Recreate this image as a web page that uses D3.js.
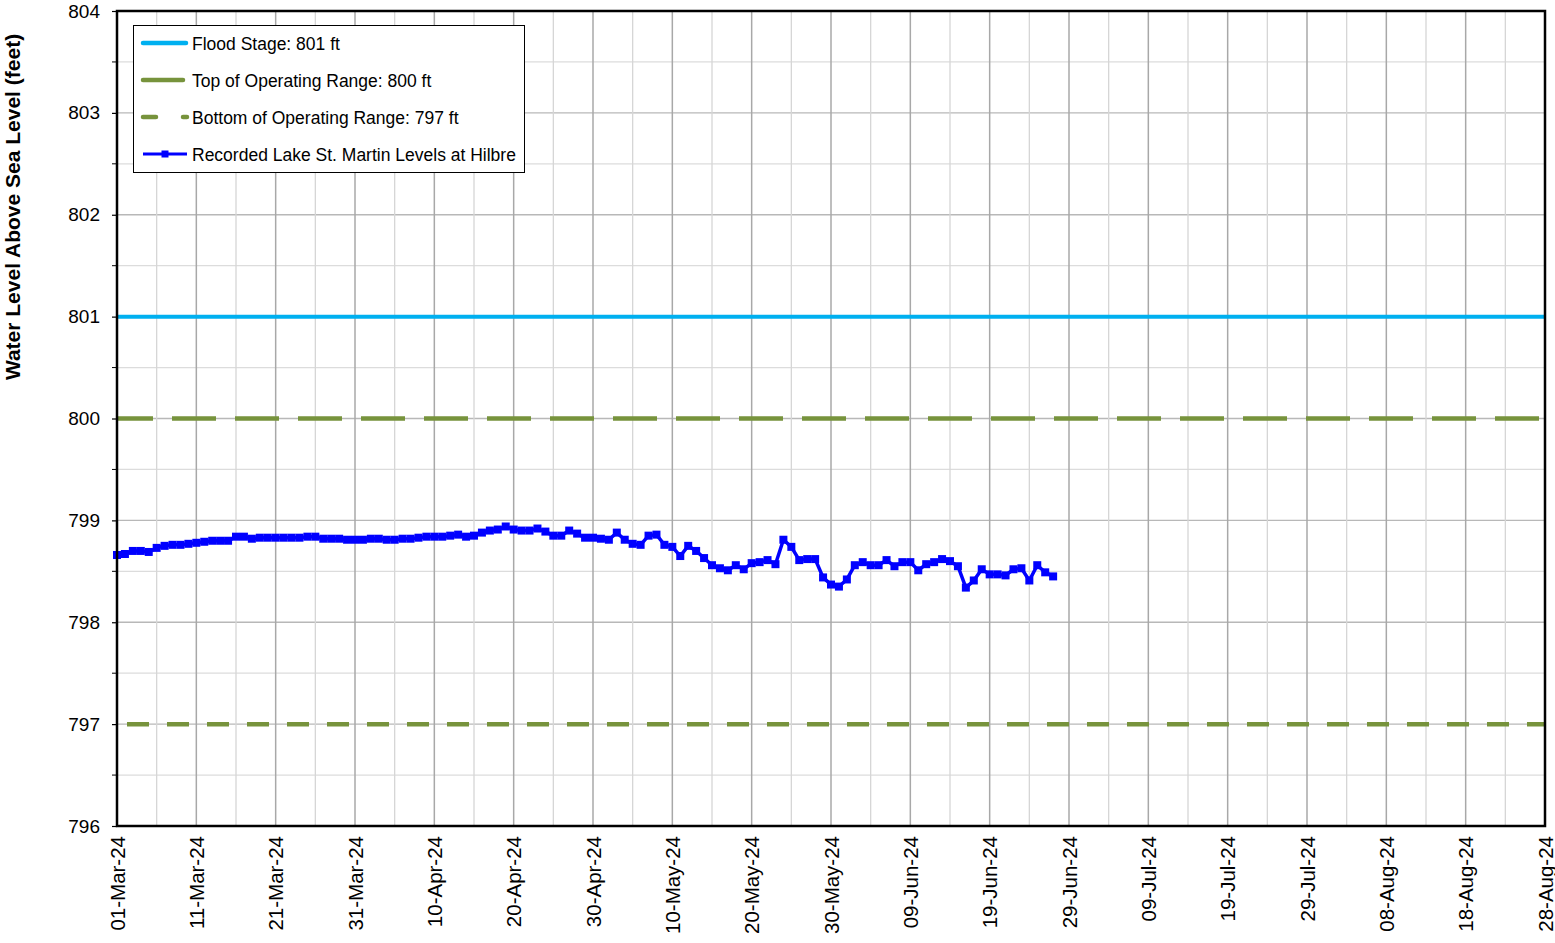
<!DOCTYPE html>
<html><head><meta charset="utf-8">
<script src="https://cdn.jsdelivr.net/npm/d3@7"></script>
<style>body{margin:0;background:#fff}svg{display:block;font-family:"Liberation Sans",Arial,sans-serif}</style>
</head><body><svg id="c" width="1555" height="943"></svg>
<script>
const startDate = "2024-03-01";
const endDate = "2024-08-28";
const levels = [
798.66,798.67,798.70,798.70,798.69,798.73,798.75,798.76,798.76,798.77,
798.78,798.79,798.80,798.80,798.80,798.84,798.84,798.82,798.83,798.83,
798.83,798.83,798.83,798.83,798.84,798.84,798.82,798.82,798.82,798.81,
798.81,798.81,798.82,798.82,798.81,798.81,798.82,798.82,798.83,798.84,
798.84,798.84,798.85,798.86,798.84,798.85,798.88,798.90,798.91,798.94,
798.91,798.90,798.90,798.92,798.89,798.85,798.85,798.90,798.87,798.83,
798.83,798.82,798.81,798.88,798.81,798.77,798.76,798.85,798.86,798.76,
798.74,798.65,798.75,798.70,798.63,798.56,798.53,798.51,798.56,798.52,
798.58,798.59,798.61,798.57,798.81,798.74,798.61,798.62,798.62,798.44,
798.37,798.35,798.42,798.56,798.59,798.56,798.56,798.61,798.55,798.59,
798.59,798.51,798.57,798.59,798.62,798.60,798.55,798.34,798.41,798.52,
798.47,798.47,798.46,798.52,798.53,798.41,798.56,798.49,798.45];
const floodStage = 801, topRange = 800, bottomRange = 797;
const yTicks = [796,797,798,799,800,801,802,803,804];
const legendLabels = ["Flood Stage: 801 ft","Top of Operating Range: 800 ft","Bottom of Operating Range: 797 ft","Recorded Lake St. Martin Levels at Hilbre"];

const parse = d3.timeParse("%Y-%m-%d");
const d0 = parse(startDate), d1 = parse(endDate);
const data = levels.map((v,i)=>({date:d3.timeDay.offset(d0,i), v}));

const L=117, R=1545, T=11, B=826;
const svg = d3.select("#c");
const x = d3.scaleTime().domain([d0,d1]).range([L,R]);
const y = d3.scaleLinear().domain([796,804]).range([B,T]);

const majorDates = d3.timeDay.range(d0, d3.timeDay.offset(d1,1), 10);
const minorDates = d3.timeDay.range(d3.timeDay.offset(d0,5), d1, 10);

// grid
const g = svg.append("g");
g.selectAll(".hm").data(d3.range(796.5,804,1)).join("line")
 .attr("x1",L).attr("x2",R).attr("y1",d=>y(d)).attr("y2",d=>y(d)).attr("stroke","#dcdcdc").attr("stroke-width",1.3);
g.selectAll(".hM").data(yTicks).join("line")
 .attr("x1",L).attr("x2",R).attr("y1",d=>y(d)).attr("y2",d=>y(d)).attr("stroke","#b8b8b8").attr("stroke-width",1.3);
g.selectAll(".vm").data(minorDates).join("line")
 .attr("y1",T).attr("y2",B).attr("x1",d=>x(d)).attr("x2",d=>x(d)).attr("stroke","#d6d6d6").attr("stroke-width",1.3);
g.selectAll(".vM").data(majorDates).join("line")
 .attr("y1",T).attr("y2",B).attr("x1",d=>x(d)).attr("x2",d=>x(d)).attr("stroke","#a8a8a8").attr("stroke-width",1.5);

// reference lines
svg.append("line").attr("x1",L).attr("x2",R).attr("y1",y(floodStage)).attr("y2",y(floodStage))
 .attr("stroke","#00B0F0").attr("stroke-width",4);
svg.append("line").attr("x1",L).attr("x2",R).attr("y1",y(topRange)).attr("y2",y(topRange))
 .attr("stroke","#77933C").attr("stroke-width",4.5).attr("stroke-dasharray","44 19").attr("stroke-dashoffset",8);
svg.append("line").attr("x1",L+10).attr("x2",R).attr("y1",y(bottomRange)).attr("y2",y(bottomRange))
 .attr("stroke","#77933C").attr("stroke-width",4.5).attr("stroke-dasharray","22 18");

// data line
const line = d3.line().x(d=>x(d.date)).y(d=>y(d.v));
svg.append("path").datum(data).attr("d",line).attr("fill","none").attr("stroke","#0000FF").attr("stroke-width",3.5);
svg.selectAll(".mk").data(data).join("rect")
 .attr("x",d=>x(d.date)-4).attr("y",d=>y(d.v)-4).attr("width",8).attr("height",8).attr("fill","#0000FF");

// frame
svg.append("rect").attr("x",L).attr("y",T).attr("width",R-L).attr("height",B-T)
 .attr("fill","none").attr("stroke","#000").attr("stroke-width",2.5);

// y axis
const ya = svg.append("g").attr("transform",`translate(${L},0)`)
 .call(d3.axisLeft(y).tickValues(yTicks).tickFormat(d3.format("d")).tickSize(5).tickPadding(12));
ya.select(".domain").remove();
ya.selectAll("line").attr("stroke","#000").attr("stroke-width",1.2);
ya.selectAll("text").attr("font-size",19).attr("fill","#000").attr("font-family","Liberation Sans, Arial, sans-serif");
svg.append("g").selectAll("line").data(d3.range(796.5,804,1)).join("line")
 .attr("x1",L-5).attr("x2",L).attr("y1",d=>y(d)).attr("y2",d=>y(d)).attr("stroke","#000").attr("stroke-width",1);

// x axis
const fmt = d3.timeFormat("%d-%b-%y");
const xa = svg.append("g").attr("transform",`translate(0,${B})`)
 .call(d3.axisBottom(x).tickValues(majorDates).tickFormat(fmt).tickSize(0).tickPadding(0));
xa.select(".domain").remove();
xa.selectAll("text").attr("font-size",20.5).attr("fill","#000").attr("font-family","Liberation Sans, Arial, sans-serif")
 .attr("text-anchor","end").attr("transform","translate(7,10) rotate(-90)").attr("dy",0).attr("y",0).attr("x",0);

// y title
svg.append("text").attr("transform","translate(20,207) rotate(-90)").attr("text-anchor","middle")
 .attr("font-size",21).attr("font-weight","bold").attr("fill","#000").text("Water Level Above Sea Level (feet)");

// legend
const lg = svg.append("g");
lg.append("rect").attr("x",133.5).attr("y",25.5).attr("width",391).attr("height",147).attr("fill","#fff").attr("stroke","#000").attr("stroke-width",1);
const ly = [43,80,117,154];
lg.append("line").attr("x1",143).attr("x2",186).attr("y1",ly[0]).attr("y2",ly[0]).attr("stroke","#00B0F0").attr("stroke-width",4.5).attr("stroke-linecap","round");
lg.append("line").attr("x1",143).attr("x2",183).attr("y1",ly[1]).attr("y2",ly[1]).attr("stroke","#77933C").attr("stroke-width",4.5).attr("stroke-linecap","round");
lg.append("line").attr("x1",143).attr("x2",187).attr("y1",ly[2]).attr("y2",ly[2]).attr("stroke","#77933C").attr("stroke-width",4.5).attr("stroke-linecap","round").attr("stroke-dasharray","13 27");
lg.append("line").attr("x1",143).attr("x2",187).attr("y1",ly[3]).attr("y2",ly[3]).attr("stroke","#0000FF").attr("stroke-width",3);
lg.append("rect").attr("x",161.5).attr("y",ly[3]-3.5).attr("width",7).attr("height",7).attr("fill","#0000FF");
lg.selectAll("text.l").data(legendLabels).join("text").attr("x",192).attr("y",(d,i)=>ly[i]+6.5)
 .attr("font-size",17.5).attr("fill","#000").text(d=>d);
</script></body></html>
